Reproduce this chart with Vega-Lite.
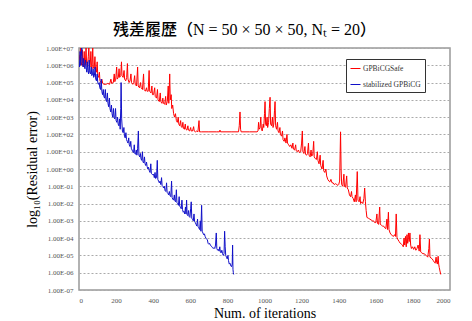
{
"$schema": "https://vega.github.io/schema/vega-lite/v6.json",
"width": 371, "height": 242,
"autosize": {"type": "none"},
"padding": {"left": 79, "top": 48, "right": 22, "bottom": 31},
"background": "white",
"title": {"text": "残差履歴（N = 50 × 50 × 50, Nₜ = 20）", "font": "Liberation Serif, Noto Sans CJK JP", "fontSize": 16, "fontWeight": 500, "color": "#000", "anchor": "middle", "dx": -20, "offset": 6},
"data": {"values": [
{"m":"GPBiCGSafe","i":0,"v":6.6},{"m":"GPBiCGSafe","i":5,"v":6.3},{"m":"GPBiCGSafe","i":8,"v":7.0},{"m":"GPBiCGSafe","i":11,"v":6.2},{"m":"GPBiCGSafe","i":15,"v":6.0},{"m":"GPBiCGSafe","i":18,"v":6.9},{"m":"GPBiCGSafe","i":21,"v":6.1},{"m":"GPBiCGSafe","i":25,"v":5.9},{"m":"GPBiCGSafe","i":28,"v":6.8},{"m":"GPBiCGSafe","i":31,"v":6.0},{"m":"GPBiCGSafe","i":35,"v":6.2},{"m":"GPBiCGSafe","i":38,"v":7.0},{"m":"GPBiCGSafe","i":41,"v":6.1},{"m":"GPBiCGSafe","i":45,"v":5.9},{"m":"GPBiCGSafe","i":50,"v":6.5},{"m":"GPBiCGSafe","i":53,"v":7.0},{"m":"GPBiCGSafe","i":56,"v":6.0},{"m":"GPBiCGSafe","i":60,"v":5.9},{"m":"GPBiCGSafe","i":64,"v":6.8},{"m":"GPBiCGSafe","i":67,"v":6.0},{"m":"GPBiCGSafe","i":70,"v":5.8},{"m":"GPBiCGSafe","i":74,"v":7.0},{"m":"GPBiCGSafe","i":77,"v":5.9},{"m":"GPBiCGSafe","i":82,"v":5.8},{"m":"GPBiCGSafe","i":86,"v":6.5},{"m":"GPBiCGSafe","i":89,"v":5.7},{"m":"GPBiCGSafe","i":94,"v":5.6},{"m":"GPBiCGSafe","i":98,"v":6.2},{"m":"GPBiCGSafe","i":101,"v":5.4},{"m":"GPBiCGSafe","i":106,"v":5.3},{"m":"GPBiCGSafe","i":110,"v":5.6},{"m":"GPBiCGSafe","i":113,"v":5.1},{"m":"GPBiCGSafe","i":118,"v":5.0},{"m":"GPBiCGSafe","i":123,"v":5.2},{"m":"GPBiCGSafe","i":128,"v":4.95},{"m":"GPBiCGSafe","i":135,"v":4.9},{"m":"GPBiCGSafe","i":145,"v":4.9},{"m":"GPBiCGSafe","i":155,"v":4.95},{"m":"GPBiCGSafe","i":165,"v":4.9},{"m":"GPBiCGSafe","i":172,"v":5.2},{"m":"GPBiCGSafe","i":176,"v":4.95},{"m":"GPBiCGSafe","i":185,"v":5.0},{"m":"GPBiCGSafe","i":190,"v":5.5},{"m":"GPBiCGSafe","i":193,"v":5.05},{"m":"GPBiCGSafe","i":198,"v":5.2},{"m":"GPBiCGSafe","i":203,"v":5.9},{"m":"GPBiCGSafe","i":206,"v":5.2},{"m":"GPBiCGSafe","i":212,"v":5.3},{"m":"GPBiCGSafe","i":216,"v":5.8},{"m":"GPBiCGSafe","i":219,"v":5.3},{"m":"GPBiCGSafe","i":225,"v":5.4},{"m":"GPBiCGSafe","i":229,"v":6.2},{"m":"GPBiCGSafe","i":232,"v":5.4},{"m":"GPBiCGSafe","i":238,"v":5.3},{"m":"GPBiCGSafe","i":243,"v":5.7},{"m":"GPBiCGSafe","i":246,"v":5.2},{"m":"GPBiCGSafe","i":252,"v":5.1},{"m":"GPBiCGSafe","i":257,"v":5.3},{"m":"GPBiCGSafe","i":261,"v":6.1},{"m":"GPBiCGSafe","i":264,"v":5.2},{"m":"GPBiCGSafe","i":270,"v":5.0},{"m":"GPBiCGSafe","i":275,"v":5.1},{"m":"GPBiCGSafe","i":280,"v":5.5},{"m":"GPBiCGSafe","i":283,"v":5.0},{"m":"GPBiCGSafe","i":290,"v":4.9},{"m":"GPBiCGSafe","i":295,"v":5.0},{"m":"GPBiCGSafe","i":300,"v":5.4},{"m":"GPBiCGSafe","i":303,"v":4.9},{"m":"GPBiCGSafe","i":310,"v":4.8},{"m":"GPBiCGSafe","i":316,"v":5.9},{"m":"GPBiCGSafe","i":319,"v":4.8},{"m":"GPBiCGSafe","i":326,"v":4.7},{"m":"GPBiCGSafe","i":332,"v":5.0},{"m":"GPBiCGSafe","i":335,"v":4.7},{"m":"GPBiCGSafe","i":342,"v":4.6},{"m":"GPBiCGSafe","i":348,"v":5.5},{"m":"GPBiCGSafe","i":351,"v":4.6},{"m":"GPBiCGSafe","i":358,"v":4.5},{"m":"GPBiCGSafe","i":364,"v":4.7},{"m":"GPBiCGSafe","i":367,"v":4.5},{"m":"GPBiCGSafe","i":373,"v":4.5},{"m":"GPBiCGSafe","i":378,"v":5.7},{"m":"GPBiCGSafe","i":381,"v":4.5},{"m":"GPBiCGSafe","i":388,"v":4.4},{"m":"GPBiCGSafe","i":393,"v":4.8},{"m":"GPBiCGSafe","i":396,"v":4.3},{"m":"GPBiCGSafe","i":402,"v":4.3},{"m":"GPBiCGSafe","i":408,"v":4.7},{"m":"GPBiCGSafe","i":411,"v":4.2},{"m":"GPBiCGSafe","i":418,"v":4.1},{"m":"GPBiCGSafe","i":423,"v":4.6},{"m":"GPBiCGSafe","i":426,"v":4.0},{"m":"GPBiCGSafe","i":433,"v":3.9},{"m":"GPBiCGSafe","i":438,"v":4.4},{"m":"GPBiCGSafe","i":441,"v":3.9},{"m":"GPBiCGSafe","i":447,"v":3.8},{"m":"GPBiCGSafe","i":452,"v":4.1},{"m":"GPBiCGSafe","i":455,"v":3.8},{"m":"GPBiCGSafe","i":462,"v":3.75},{"m":"GPBiCGSafe","i":467,"v":4.2},{"m":"GPBiCGSafe","i":470,"v":3.7},{"m":"GPBiCGSafe","i":476,"v":3.9},{"m":"GPBiCGSafe","i":481,"v":4.8},{"m":"GPBiCGSafe","i":484,"v":3.8},{"m":"GPBiCGSafe","i":489,"v":5.5},{"m":"GPBiCGSafe","i":492,"v":4.0},{"m":"GPBiCGSafe","i":497,"v":4.3},{"m":"GPBiCGSafe","i":500,"v":3.5},{"m":"GPBiCGSafe","i":505,"v":3.7},{"m":"GPBiCGSafe","i":510,"v":3.2},{"m":"GPBiCGSafe","i":515,"v":3.0},{"m":"GPBiCGSafe","i":520,"v":3.2},{"m":"GPBiCGSafe","i":525,"v":2.8},{"m":"GPBiCGSafe","i":530,"v":2.7},{"m":"GPBiCGSafe","i":535,"v":3.0},{"m":"GPBiCGSafe","i":538,"v":2.6},{"m":"GPBiCGSafe","i":543,"v":2.5},{"m":"GPBiCGSafe","i":548,"v":2.8},{"m":"GPBiCGSafe","i":551,"v":2.45},{"m":"GPBiCGSafe","i":556,"v":2.4},{"m":"GPBiCGSafe","i":560,"v":2.7},{"m":"GPBiCGSafe","i":563,"v":2.35},{"m":"GPBiCGSafe","i":568,"v":2.3},{"m":"GPBiCGSafe","i":573,"v":2.6},{"m":"GPBiCGSafe","i":576,"v":2.3},{"m":"GPBiCGSafe","i":582,"v":2.25},{"m":"GPBiCGSafe","i":587,"v":2.5},{"m":"GPBiCGSafe","i":590,"v":2.25},{"m":"GPBiCGSafe","i":596,"v":2.2},{"m":"GPBiCGSafe","i":602,"v":2.4},{"m":"GPBiCGSafe","i":605,"v":2.2},{"m":"GPBiCGSafe","i":612,"v":2.2},{"m":"GPBiCGSafe","i":618,"v":2.45},{"m":"GPBiCGSafe","i":621,"v":2.2},{"m":"GPBiCGSafe","i":628,"v":2.15},{"m":"GPBiCGSafe","i":635,"v":2.2},{"m":"GPBiCGSafe","i":641,"v":2.15},{"m":"GPBiCGSafe","i":647,"v":2.8},{"m":"GPBiCGSafe","i":650,"v":2.15},{"m":"GPBiCGSafe","i":660,"v":2.15},{"m":"GPBiCGSafe","i":700,"v":2.15},{"m":"GPBiCGSafe","i":740,"v":2.15},{"m":"GPBiCGSafe","i":757,"v":2.15},{"m":"GPBiCGSafe","i":760,"v":2.25},{"m":"GPBiCGSafe","i":763,"v":2.15},{"m":"GPBiCGSafe","i":820,"v":2.15},{"m":"GPBiCGSafe","i":860,"v":2.15},{"m":"GPBiCGSafe","i":864,"v":2.5},{"m":"GPBiCGSafe","i":868,"v":3.3},{"m":"GPBiCGSafe","i":871,"v":2.3},{"m":"GPBiCGSafe","i":874,"v":2.15},{"m":"GPBiCGSafe","i":920,"v":2.15},{"m":"GPBiCGSafe","i":960,"v":2.15},{"m":"GPBiCGSafe","i":965,"v":2.2},{"m":"GPBiCGSafe","i":968,"v":2.7},{"m":"GPBiCGSafe","i":971,"v":2.3},{"m":"GPBiCGSafe","i":976,"v":2.4},{"m":"GPBiCGSafe","i":980,"v":3.0},{"m":"GPBiCGSafe","i":983,"v":2.3},{"m":"GPBiCGSafe","i":988,"v":2.2},{"m":"GPBiCGSafe","i":993,"v":2.6},{"m":"GPBiCGSafe","i":996,"v":2.4},{"m":"GPBiCGSafe","i":1000,"v":3.2},{"m":"GPBiCGSafe","i":1003,"v":3.9},{"m":"GPBiCGSafe","i":1006,"v":2.6},{"m":"GPBiCGSafe","i":1010,"v":2.5},{"m":"GPBiCGSafe","i":1014,"v":3.0},{"m":"GPBiCGSafe","i":1017,"v":2.4},{"m":"GPBiCGSafe","i":1022,"v":2.7},{"m":"GPBiCGSafe","i":1026,"v":3.5},{"m":"GPBiCGSafe","i":1030,"v":4.15},{"m":"GPBiCGSafe","i":1033,"v":2.6},{"m":"GPBiCGSafe","i":1038,"v":2.5},{"m":"GPBiCGSafe","i":1043,"v":3.0},{"m":"GPBiCGSafe","i":1046,"v":2.4},{"m":"GPBiCGSafe","i":1050,"v":2.6},{"m":"GPBiCGSafe","i":1054,"v":3.4},{"m":"GPBiCGSafe","i":1057,"v":3.9},{"m":"GPBiCGSafe","i":1060,"v":2.5},{"m":"GPBiCGSafe","i":1065,"v":2.3},{"m":"GPBiCGSafe","i":1070,"v":2.7},{"m":"GPBiCGSafe","i":1073,"v":2.2},{"m":"GPBiCGSafe","i":1078,"v":2.1},{"m":"GPBiCGSafe","i":1083,"v":2.4},{"m":"GPBiCGSafe","i":1086,"v":2.0},{"m":"GPBiCGSafe","i":1092,"v":1.9},{"m":"GPBiCGSafe","i":1097,"v":2.2},{"m":"GPBiCGSafe","i":1100,"v":1.7},{"m":"GPBiCGSafe","i":1106,"v":1.6},{"m":"GPBiCGSafe","i":1110,"v":1.8},{"m":"GPBiCGSafe","i":1116,"v":1.5},{"m":"GPBiCGSafe","i":1121,"v":2.0},{"m":"GPBiCGSafe","i":1124,"v":1.5},{"m":"GPBiCGSafe","i":1130,"v":1.4},{"m":"GPBiCGSafe","i":1136,"v":1.3},{"m":"GPBiCGSafe","i":1142,"v":1.4},{"m":"GPBiCGSafe","i":1148,"v":1.2},{"m":"GPBiCGSafe","i":1153,"v":1.5},{"m":"GPBiCGSafe","i":1156,"v":1.15},{"m":"GPBiCGSafe","i":1162,"v":1.1},{"m":"GPBiCGSafe","i":1168,"v":1.4},{"m":"GPBiCGSafe","i":1171,"v":1.05},{"m":"GPBiCGSafe","i":1177,"v":1.0},{"m":"GPBiCGSafe","i":1183,"v":1.1},{"m":"GPBiCGSafe","i":1188,"v":0.95},{"m":"GPBiCGSafe","i":1195,"v":1.0},{"m":"GPBiCGSafe","i":1200,"v":1.5},{"m":"GPBiCGSafe","i":1204,"v":2.2},{"m":"GPBiCGSafe","i":1207,"v":1.0},{"m":"GPBiCGSafe","i":1212,"v":0.9},{"m":"GPBiCGSafe","i":1218,"v":1.3},{"m":"GPBiCGSafe","i":1221,"v":0.85},{"m":"GPBiCGSafe","i":1227,"v":0.8},{"m":"GPBiCGSafe","i":1232,"v":0.9},{"m":"GPBiCGSafe","i":1237,"v":1.5},{"m":"GPBiCGSafe","i":1240,"v":0.8},{"m":"GPBiCGSafe","i":1246,"v":0.7},{"m":"GPBiCGSafe","i":1251,"v":1.1},{"m":"GPBiCGSafe","i":1254,"v":0.75},{"m":"GPBiCGSafe","i":1260,"v":0.8},{"m":"GPBiCGSafe","i":1265,"v":1.6},{"m":"GPBiCGSafe","i":1268,"v":0.7},{"m":"GPBiCGSafe","i":1274,"v":0.6},{"m":"GPBiCGSafe","i":1280,"v":0.55},{"m":"GPBiCGSafe","i":1285,"v":1.0},{"m":"GPBiCGSafe","i":1288,"v":0.5},{"m":"GPBiCGSafe","i":1294,"v":0.3},{"m":"GPBiCGSafe","i":1300,"v":0.8},{"m":"GPBiCGSafe","i":1303,"v":0.2},{"m":"GPBiCGSafe","i":1310,"v":0.0},{"m":"GPBiCGSafe","i":1316,"v":0.5},{"m":"GPBiCGSafe","i":1319,"v":-0.1},{"m":"GPBiCGSafe","i":1325,"v":-0.2},{"m":"GPBiCGSafe","i":1331,"v":0.0},{"m":"GPBiCGSafe","i":1335,"v":-0.4},{"m":"GPBiCGSafe","i":1341,"v":-0.6},{"m":"GPBiCGSafe","i":1347,"v":-0.7},{"m":"GPBiCGSafe","i":1352,"v":-0.75},{"m":"GPBiCGSafe","i":1358,"v":-0.6},{"m":"GPBiCGSafe","i":1364,"v":-0.8},{"m":"GPBiCGSafe","i":1370,"v":-0.8},{"m":"GPBiCGSafe","i":1376,"v":-0.9},{"m":"GPBiCGSafe","i":1382,"v":-0.85},{"m":"GPBiCGSafe","i":1390,"v":-0.9},{"m":"GPBiCGSafe","i":1396,"v":-0.95},{"m":"GPBiCGSafe","i":1400,"v":-0.9},{"m":"GPBiCGSafe","i":1405,"v":-0.7},{"m":"GPBiCGSafe","i":1408,"v":1.0},{"m":"GPBiCGSafe","i":1410,"v":2.15},{"m":"GPBiCGSafe","i":1413,"v":0.0},{"m":"GPBiCGSafe","i":1416,"v":-0.9},{"m":"GPBiCGSafe","i":1422,"v":-1.0},{"m":"GPBiCGSafe","i":1428,"v":-0.3},{"m":"GPBiCGSafe","i":1431,"v":-1.0},{"m":"GPBiCGSafe","i":1437,"v":-1.05},{"m":"GPBiCGSafe","i":1443,"v":-0.4},{"m":"GPBiCGSafe","i":1446,"v":-1.1},{"m":"GPBiCGSafe","i":1452,"v":-1.2},{"m":"GPBiCGSafe","i":1458,"v":-1.5},{"m":"GPBiCGSafe","i":1464,"v":-1.6},{"m":"GPBiCGSafe","i":1469,"v":-1.3},{"m":"GPBiCGSafe","i":1472,"v":-1.6},{"m":"GPBiCGSafe","i":1478,"v":-1.7},{"m":"GPBiCGSafe","i":1484,"v":-1.9},{"m":"GPBiCGSafe","i":1490,"v":-1.5},{"m":"GPBiCGSafe","i":1494,"v":-1.9},{"m":"GPBiCGSafe","i":1500,"v":-0.15},{"m":"GPBiCGSafe","i":1504,"v":-1.8},{"m":"GPBiCGSafe","i":1510,"v":-1.9},{"m":"GPBiCGSafe","i":1515,"v":-1.6},{"m":"GPBiCGSafe","i":1518,"v":-2.0},{"m":"GPBiCGSafe","i":1524,"v":-1.9},{"m":"GPBiCGSafe","i":1530,"v":-2.0},{"m":"GPBiCGSafe","i":1536,"v":-1.7},{"m":"GPBiCGSafe","i":1540,"v":-1.1},{"m":"GPBiCGSafe","i":1544,"v":-1.9},{"m":"GPBiCGSafe","i":1548,"v":-2.4},{"m":"GPBiCGSafe","i":1552,"v":-2.8},{"m":"GPBiCGSafe","i":1560,"v":-2.85},{"m":"GPBiCGSafe","i":1568,"v":-2.9},{"m":"GPBiCGSafe","i":1575,"v":-2.95},{"m":"GPBiCGSafe","i":1582,"v":-3.0},{"m":"GPBiCGSafe","i":1588,"v":-3.0},{"m":"GPBiCGSafe","i":1594,"v":-3.1},{"m":"GPBiCGSafe","i":1600,"v":-3.1},{"m":"GPBiCGSafe","i":1606,"v":-2.6},{"m":"GPBiCGSafe","i":1609,"v":-3.15},{"m":"GPBiCGSafe","i":1615,"v":-3.2},{"m":"GPBiCGSafe","i":1621,"v":-2.2},{"m":"GPBiCGSafe","i":1624,"v":-3.2},{"m":"GPBiCGSafe","i":1630,"v":-3.25},{"m":"GPBiCGSafe","i":1636,"v":-3.3},{"m":"GPBiCGSafe","i":1642,"v":-3.3},{"m":"GPBiCGSafe","i":1648,"v":-3.4},{"m":"GPBiCGSafe","i":1654,"v":-3.45},{"m":"GPBiCGSafe","i":1660,"v":-2.9},{"m":"GPBiCGSafe","i":1663,"v":-3.5},{"m":"GPBiCGSafe","i":1668,"v":-2.5},{"m":"GPBiCGSafe","i":1671,"v":-3.5},{"m":"GPBiCGSafe","i":1677,"v":-3.7},{"m":"GPBiCGSafe","i":1683,"v":-3.8},{"m":"GPBiCGSafe","i":1689,"v":-3.85},{"m":"GPBiCGSafe","i":1695,"v":-3.9},{"m":"GPBiCGSafe","i":1701,"v":-3.8},{"m":"GPBiCGSafe","i":1706,"v":-3.9},{"m":"GPBiCGSafe","i":1710,"v":-2.6},{"m":"GPBiCGSafe","i":1714,"v":-3.95},{"m":"GPBiCGSafe","i":1720,"v":-4.1},{"m":"GPBiCGSafe","i":1726,"v":-4.2},{"m":"GPBiCGSafe","i":1732,"v":-4.3},{"m":"GPBiCGSafe","i":1738,"v":-4.35},{"m":"GPBiCGSafe","i":1744,"v":-4.4},{"m":"GPBiCGSafe","i":1748,"v":-4.5},{"m":"GPBiCGSafe","i":1752,"v":-4.0},{"m":"GPBiCGSafe","i":1756,"v":-4.4},{"m":"GPBiCGSafe","i":1760,"v":-3.9},{"m":"GPBiCGSafe","i":1764,"v":-4.5},{"m":"GPBiCGSafe","i":1768,"v":-3.8},{"m":"GPBiCGSafe","i":1772,"v":-4.3},{"m":"GPBiCGSafe","i":1776,"v":-3.7},{"m":"GPBiCGSafe","i":1780,"v":-4.2},{"m":"GPBiCGSafe","i":1784,"v":-3.7},{"m":"GPBiCGSafe","i":1788,"v":-4.4},{"m":"GPBiCGSafe","i":1792,"v":-4.6},{"m":"GPBiCGSafe","i":1798,"v":-4.5},{"m":"GPBiCGSafe","i":1804,"v":-4.65},{"m":"GPBiCGSafe","i":1810,"v":-4.5},{"m":"GPBiCGSafe","i":1816,"v":-4.7},{"m":"GPBiCGSafe","i":1822,"v":-4.6},{"m":"GPBiCGSafe","i":1828,"v":-4.4},{"m":"GPBiCGSafe","i":1834,"v":-4.75},{"m":"GPBiCGSafe","i":1838,"v":-3.8},{"m":"GPBiCGSafe","i":1842,"v":-4.8},{"m":"GPBiCGSafe","i":1848,"v":-4.85},{"m":"GPBiCGSafe","i":1854,"v":-4.9},{"m":"GPBiCGSafe","i":1860,"v":-4.9},{"m":"GPBiCGSafe","i":1866,"v":-4.95},{"m":"GPBiCGSafe","i":1872,"v":-5.0},{"m":"GPBiCGSafe","i":1880,"v":-5.1},{"m":"GPBiCGSafe","i":1886,"v":-4.6},{"m":"GPBiCGSafe","i":1889,"v":-4.05},{"m":"GPBiCGSafe","i":1892,"v":-5.1},{"m":"GPBiCGSafe","i":1898,"v":-5.15},{"m":"GPBiCGSafe","i":1904,"v":-5.2},{"m":"GPBiCGSafe","i":1910,"v":-5.3},{"m":"GPBiCGSafe","i":1916,"v":-5.4},{"m":"GPBiCGSafe","i":1920,"v":-5.45},{"m":"GPBiCGSafe","i":1925,"v":-5.1},{"m":"GPBiCGSafe","i":1928,"v":-5.4},{"m":"GPBiCGSafe","i":1932,"v":-5.5},{"m":"GPBiCGSafe","i":1936,"v":-5.05},{"m":"GPBiCGSafe","i":1939,"v":-5.5},{"m":"GPBiCGSafe","i":1942,"v":-5.7},{"m":"GPBiCGSafe","i":1946,"v":-5.9},{"m":"GPBiCGSafe","i":1950,"v":-6.1},
{"m":"stabilized GPBiCG","i":0,"v":6.3},{"m":"stabilized GPBiCG","i":3,"v":5.9},{"m":"stabilized GPBiCG","i":6,"v":6.8},{"m":"stabilized GPBiCG","i":9,"v":6.0},{"m":"stabilized GPBiCG","i":12,"v":6.5},{"m":"stabilized GPBiCG","i":15,"v":7.0},{"m":"stabilized GPBiCG","i":18,"v":6.1},{"m":"stabilized GPBiCG","i":22,"v":5.9},{"m":"stabilized GPBiCG","i":25,"v":6.4},{"m":"stabilized GPBiCG","i":28,"v":6.0},{"m":"stabilized GPBiCG","i":32,"v":5.8},{"m":"stabilized GPBiCG","i":35,"v":6.3},{"m":"stabilized GPBiCG","i":38,"v":5.9},{"m":"stabilized GPBiCG","i":42,"v":5.6},{"m":"stabilized GPBiCG","i":45,"v":6.2},{"m":"stabilized GPBiCG","i":48,"v":5.7},{"m":"stabilized GPBiCG","i":52,"v":5.5},{"m":"stabilized GPBiCG","i":55,"v":6.3},{"m":"stabilized GPBiCG","i":58,"v":5.6},{"m":"stabilized GPBiCG","i":62,"v":5.5},{"m":"stabilized GPBiCG","i":66,"v":5.9},{"m":"stabilized GPBiCG","i":69,"v":5.4},{"m":"stabilized GPBiCG","i":73,"v":5.5},{"m":"stabilized GPBiCG","i":76,"v":5.8},{"m":"stabilized GPBiCG","i":79,"v":5.3},{"m":"stabilized GPBiCG","i":83,"v":5.4},{"m":"stabilized GPBiCG","i":87,"v":5.9},{"m":"stabilized GPBiCG","i":90,"v":5.2},{"m":"stabilized GPBiCG","i":94,"v":5.1},{"m":"stabilized GPBiCG","i":98,"v":5.5},{"m":"stabilized GPBiCG","i":101,"v":5.0},{"m":"stabilized GPBiCG","i":105,"v":4.9},{"m":"stabilized GPBiCG","i":109,"v":5.0},{"m":"stabilized GPBiCG","i":112,"v":4.7},{"m":"stabilized GPBiCG","i":116,"v":4.6},{"m":"stabilized GPBiCG","i":120,"v":5.2},{"m":"stabilized GPBiCG","i":123,"v":4.5},{"m":"stabilized GPBiCG","i":127,"v":4.3},{"m":"stabilized GPBiCG","i":131,"v":4.6},{"m":"stabilized GPBiCG","i":134,"v":4.2},{"m":"stabilized GPBiCG","i":138,"v":4.1},{"m":"stabilized GPBiCG","i":142,"v":4.6},{"m":"stabilized GPBiCG","i":145,"v":4.0},{"m":"stabilized GPBiCG","i":149,"v":3.9},{"m":"stabilized GPBiCG","i":153,"v":4.4},{"m":"stabilized GPBiCG","i":156,"v":3.8},{"m":"stabilized GPBiCG","i":160,"v":3.6},{"m":"stabilized GPBiCG","i":164,"v":4.1},{"m":"stabilized GPBiCG","i":167,"v":3.5},{"m":"stabilized GPBiCG","i":171,"v":3.3},{"m":"stabilized GPBiCG","i":175,"v":3.7},{"m":"stabilized GPBiCG","i":178,"v":3.2},{"m":"stabilized GPBiCG","i":182,"v":3.0},{"m":"stabilized GPBiCG","i":186,"v":3.5},{"m":"stabilized GPBiCG","i":189,"v":2.95},{"m":"stabilized GPBiCG","i":193,"v":2.9},{"m":"stabilized GPBiCG","i":197,"v":3.5},{"m":"stabilized GPBiCG","i":200,"v":2.8},{"m":"stabilized GPBiCG","i":204,"v":2.7},{"m":"stabilized GPBiCG","i":208,"v":3.0},{"m":"stabilized GPBiCG","i":211,"v":2.6},{"m":"stabilized GPBiCG","i":215,"v":2.5},{"m":"stabilized GPBiCG","i":219,"v":2.9},{"m":"stabilized GPBiCG","i":222,"v":2.3},{"m":"stabilized GPBiCG","i":225,"v":3.5},{"m":"stabilized GPBiCG","i":227,"v":5.0},{"m":"stabilized GPBiCG","i":230,"v":2.9},{"m":"stabilized GPBiCG","i":234,"v":2.2},{"m":"stabilized GPBiCG","i":238,"v":2.1},{"m":"stabilized GPBiCG","i":242,"v":2.4},{"m":"stabilized GPBiCG","i":245,"v":1.9},{"m":"stabilized GPBiCG","i":249,"v":1.8},{"m":"stabilized GPBiCG","i":253,"v":2.1},{"m":"stabilized GPBiCG","i":256,"v":1.7},{"m":"stabilized GPBiCG","i":260,"v":1.6},{"m":"stabilized GPBiCG","i":264,"v":1.5},{"m":"stabilized GPBiCG","i":268,"v":1.8},{"m":"stabilized GPBiCG","i":271,"v":1.4},{"m":"stabilized GPBiCG","i":275,"v":1.3},{"m":"stabilized GPBiCG","i":279,"v":1.6},{"m":"stabilized GPBiCG","i":282,"v":1.2},{"m":"stabilized GPBiCG","i":286,"v":1.1},{"m":"stabilized GPBiCG","i":290,"v":1.0},{"m":"stabilized GPBiCG","i":294,"v":0.95},{"m":"stabilized GPBiCG","i":298,"v":1.4},{"m":"stabilized GPBiCG","i":301,"v":0.9},{"m":"stabilized GPBiCG","i":305,"v":0.85},{"m":"stabilized GPBiCG","i":309,"v":1.1},{"m":"stabilized GPBiCG","i":312,"v":0.8},{"m":"stabilized GPBiCG","i":316,"v":1.2},{"m":"stabilized GPBiCG","i":320,"v":2.2},{"m":"stabilized GPBiCG","i":323,"v":0.8},{"m":"stabilized GPBiCG","i":327,"v":0.7},{"m":"stabilized GPBiCG","i":331,"v":0.9},{"m":"stabilized GPBiCG","i":334,"v":0.6},{"m":"stabilized GPBiCG","i":338,"v":0.5},{"m":"stabilized GPBiCG","i":342,"v":1.0},{"m":"stabilized GPBiCG","i":345,"v":0.4},{"m":"stabilized GPBiCG","i":349,"v":0.35},{"m":"stabilized GPBiCG","i":353,"v":0.7},{"m":"stabilized GPBiCG","i":356,"v":0.3},{"m":"stabilized GPBiCG","i":360,"v":0.2},{"m":"stabilized GPBiCG","i":364,"v":0.4},{"m":"stabilized GPBiCG","i":367,"v":0.15},{"m":"stabilized GPBiCG","i":371,"v":0.0},{"m":"stabilized GPBiCG","i":375,"v":0.1},{"m":"stabilized GPBiCG","i":379,"v":-0.1},{"m":"stabilized GPBiCG","i":383,"v":-0.2},{"m":"stabilized GPBiCG","i":387,"v":0.3},{"m":"stabilized GPBiCG","i":390,"v":-0.25},{"m":"stabilized GPBiCG","i":394,"v":-0.3},{"m":"stabilized GPBiCG","i":398,"v":-0.35},{"m":"stabilized GPBiCG","i":402,"v":-0.3},{"m":"stabilized GPBiCG","i":406,"v":-0.5},{"m":"stabilized GPBiCG","i":410,"v":-0.2},{"m":"stabilized GPBiCG","i":413,"v":-0.55},{"m":"stabilized GPBiCG","i":418,"v":-0.5},{"m":"stabilized GPBiCG","i":422,"v":0.5},{"m":"stabilized GPBiCG","i":425,"v":-0.6},{"m":"stabilized GPBiCG","i":429,"v":-0.7},{"m":"stabilized GPBiCG","i":433,"v":-0.8},{"m":"stabilized GPBiCG","i":437,"v":-0.7},{"m":"stabilized GPBiCG","i":441,"v":-0.9},{"m":"stabilized GPBiCG","i":445,"v":-0.5},{"m":"stabilized GPBiCG","i":448,"v":-0.95},{"m":"stabilized GPBiCG","i":452,"v":-1.0},{"m":"stabilized GPBiCG","i":456,"v":-1.1},{"m":"stabilized GPBiCG","i":460,"v":-1.0},{"m":"stabilized GPBiCG","i":464,"v":-1.25},{"m":"stabilized GPBiCG","i":468,"v":-1.3},{"m":"stabilized GPBiCG","i":472,"v":-0.8},{"m":"stabilized GPBiCG","i":475,"v":-1.35},{"m":"stabilized GPBiCG","i":479,"v":-1.4},{"m":"stabilized GPBiCG","i":483,"v":-1.5},{"m":"stabilized GPBiCG","i":487,"v":-1.3},{"m":"stabilized GPBiCG","i":491,"v":-1.55},{"m":"stabilized GPBiCG","i":495,"v":-1.6},{"m":"stabilized GPBiCG","i":499,"v":-0.7},{"m":"stabilized GPBiCG","i":502,"v":-1.65},{"m":"stabilized GPBiCG","i":506,"v":-1.75},{"m":"stabilized GPBiCG","i":510,"v":-1.8},{"m":"stabilized GPBiCG","i":514,"v":-1.5},{"m":"stabilized GPBiCG","i":517,"v":-1.85},{"m":"stabilized GPBiCG","i":521,"v":-1.9},{"m":"stabilized GPBiCG","i":525,"v":-1.2},{"m":"stabilized GPBiCG","i":528,"v":-1.95},{"m":"stabilized GPBiCG","i":532,"v":-2.0},{"m":"stabilized GPBiCG","i":536,"v":-2.1},{"m":"stabilized GPBiCG","i":540,"v":-1.6},{"m":"stabilized GPBiCG","i":543,"v":-2.15},{"m":"stabilized GPBiCG","i":547,"v":-2.2},{"m":"stabilized GPBiCG","i":551,"v":-2.3},{"m":"stabilized GPBiCG","i":555,"v":-1.8},{"m":"stabilized GPBiCG","i":558,"v":-2.35},{"m":"stabilized GPBiCG","i":562,"v":-2.5},{"m":"stabilized GPBiCG","i":566,"v":-2.45},{"m":"stabilized GPBiCG","i":570,"v":-2.6},{"m":"stabilized GPBiCG","i":574,"v":-2.2},{"m":"stabilized GPBiCG","i":577,"v":-2.6},{"m":"stabilized GPBiCG","i":580,"v":-1.8},{"m":"stabilized GPBiCG","i":583,"v":-2.65},{"m":"stabilized GPBiCG","i":587,"v":-2.7},{"m":"stabilized GPBiCG","i":591,"v":-2.4},{"m":"stabilized GPBiCG","i":594,"v":-2.75},{"m":"stabilized GPBiCG","i":598,"v":-2.8},{"m":"stabilized GPBiCG","i":602,"v":-2.3},{"m":"stabilized GPBiCG","i":605,"v":-1.9},{"m":"stabilized GPBiCG","i":608,"v":-2.85},{"m":"stabilized GPBiCG","i":612,"v":-2.9},{"m":"stabilized GPBiCG","i":616,"v":-3.0},{"m":"stabilized GPBiCG","i":620,"v":-2.6},{"m":"stabilized GPBiCG","i":623,"v":-3.05},{"m":"stabilized GPBiCG","i":627,"v":-3.1},{"m":"stabilized GPBiCG","i":631,"v":-3.2},{"m":"stabilized GPBiCG","i":635,"v":-3.3},{"m":"stabilized GPBiCG","i":639,"v":-2.9},{"m":"stabilized GPBiCG","i":642,"v":-3.35},{"m":"stabilized GPBiCG","i":646,"v":-3.4},{"m":"stabilized GPBiCG","i":650,"v":-3.5},{"m":"stabilized GPBiCG","i":654,"v":-3.0},{"m":"stabilized GPBiCG","i":657,"v":-3.6},{"m":"stabilized GPBiCG","i":661,"v":-2.1},{"m":"stabilized GPBiCG","i":664,"v":-3.6},{"m":"stabilized GPBiCG","i":668,"v":-3.7},{"m":"stabilized GPBiCG","i":672,"v":-3.8},{"m":"stabilized GPBiCG","i":676,"v":-3.75},{"m":"stabilized GPBiCG","i":680,"v":-3.9},{"m":"stabilized GPBiCG","i":684,"v":-4.0},{"m":"stabilized GPBiCG","i":688,"v":-4.05},{"m":"stabilized GPBiCG","i":692,"v":-4.1},{"m":"stabilized GPBiCG","i":696,"v":-4.3},{"m":"stabilized GPBiCG","i":700,"v":-4.35},{"m":"stabilized GPBiCG","i":704,"v":-4.3},{"m":"stabilized GPBiCG","i":708,"v":-4.4},{"m":"stabilized GPBiCG","i":712,"v":-4.45},{"m":"stabilized GPBiCG","i":716,"v":-4.5},{"m":"stabilized GPBiCG","i":720,"v":-4.55},{"m":"stabilized GPBiCG","i":724,"v":-4.6},{"m":"stabilized GPBiCG","i":728,"v":-4.55},{"m":"stabilized GPBiCG","i":732,"v":-4.6},{"m":"stabilized GPBiCG","i":736,"v":-4.4},{"m":"stabilized GPBiCG","i":740,"v":-3.7},{"m":"stabilized GPBiCG","i":743,"v":-4.6},{"m":"stabilized GPBiCG","i":747,"v":-4.7},{"m":"stabilized GPBiCG","i":751,"v":-4.65},{"m":"stabilized GPBiCG","i":755,"v":-4.75},{"m":"stabilized GPBiCG","i":759,"v":-4.5},{"m":"stabilized GPBiCG","i":762,"v":-4.8},{"m":"stabilized GPBiCG","i":766,"v":-4.85},{"m":"stabilized GPBiCG","i":770,"v":-4.7},{"m":"stabilized GPBiCG","i":774,"v":-4.9},{"m":"stabilized GPBiCG","i":778,"v":-5.0},{"m":"stabilized GPBiCG","i":782,"v":-4.9},{"m":"stabilized GPBiCG","i":785,"v":-3.6},{"m":"stabilized GPBiCG","i":788,"v":-4.5},{"m":"stabilized GPBiCG","i":791,"v":-5.0},{"m":"stabilized GPBiCG","i":795,"v":-5.1},{"m":"stabilized GPBiCG","i":799,"v":-5.2},{"m":"stabilized GPBiCG","i":803,"v":-5.0},{"m":"stabilized GPBiCG","i":806,"v":-5.3},{"m":"stabilized GPBiCG","i":810,"v":-5.5},{"m":"stabilized GPBiCG","i":814,"v":-5.45},{"m":"stabilized GPBiCG","i":818,"v":-5.6},{"m":"stabilized GPBiCG","i":822,"v":-5.65},{"m":"stabilized GPBiCG","i":826,"v":-5.5},{"m":"stabilized GPBiCG","i":828,"v":-4.4},{"m":"stabilized GPBiCG","i":830,"v":-5.8},{"m":"stabilized GPBiCG","i":832,"v":-6.0},{"m":"stabilized GPBiCG","i":834,"v":-6.1}
]},
"mark": {"type": "line", "strokeWidth": 1, "clip": true},
"encoding": {
"x": {"field": "i", "type": "quantitative", "scale": {"domain": [0, 2000], "nice": false},
 "axis": {"values": [0,200,400,600,800,1000,1200,1400,1600,1800,2000], "format": "d", "title": "Num. of iterations", "grid": false, "ticks": false, "domain": false, "labelFontSize": 7, "labelFont": "Liberation Serif", "labelColor": "#555", "labelPadding": 6, "titleFont": "Liberation Serif", "titleFontSize": 14, "titleFontWeight": "normal", "titleColor": "#000", "titlePadding": 3}},
"y": {"field": "v", "type": "quantitative", "scale": {"domain": [-7, 7], "nice": false},
 "axis": {"values": [-7,-6,-5,-4,-3,-2,-1,0,1,2,3,4,5,6,7], "labelExpr": "'1.00E' + (datum.value < 0 ? '-' : '+') + (abs(datum.value) < 10 ? '0' : '') + abs(datum.value)", "title": "log₁₀(Residual error)", "grid": true, "gridDash": [2, 2], "gridColor": "#aaa", "gridWidth": 1, "ticks": false, "domain": false, "labelFontSize": 7, "labelFont": "Liberation Serif", "labelColor": "#555", "labelPadding": 6, "titleFont": "Liberation Serif", "titleFontSize": 14, "titleFontWeight": "normal", "titleColor": "#000", "titlePadding": 6}},
"color": {"field": "m", "type": "nominal", "scale": {"domain": ["GPBiCGSafe", "stabilized GPBiCG"], "range": ["#ff0000", "#1010c8"]},
 "legend": {"orient": "none", "legendX": 267, "legendY": 11, "title": null, "symbolType": "stroke", "symbolSize": 100, "symbolStrokeWidth": 1, "labelFont": "Liberation Serif", "labelFontSize": 7.5, "labelColor": "#333", "strokeColor": "#333", "fillColor": "white", "padding": 4, "rowPadding": 7, "labelOffset": 2}}
},
"config": {"view": {"stroke": "#999", "strokeWidth": 1.5}}
}
